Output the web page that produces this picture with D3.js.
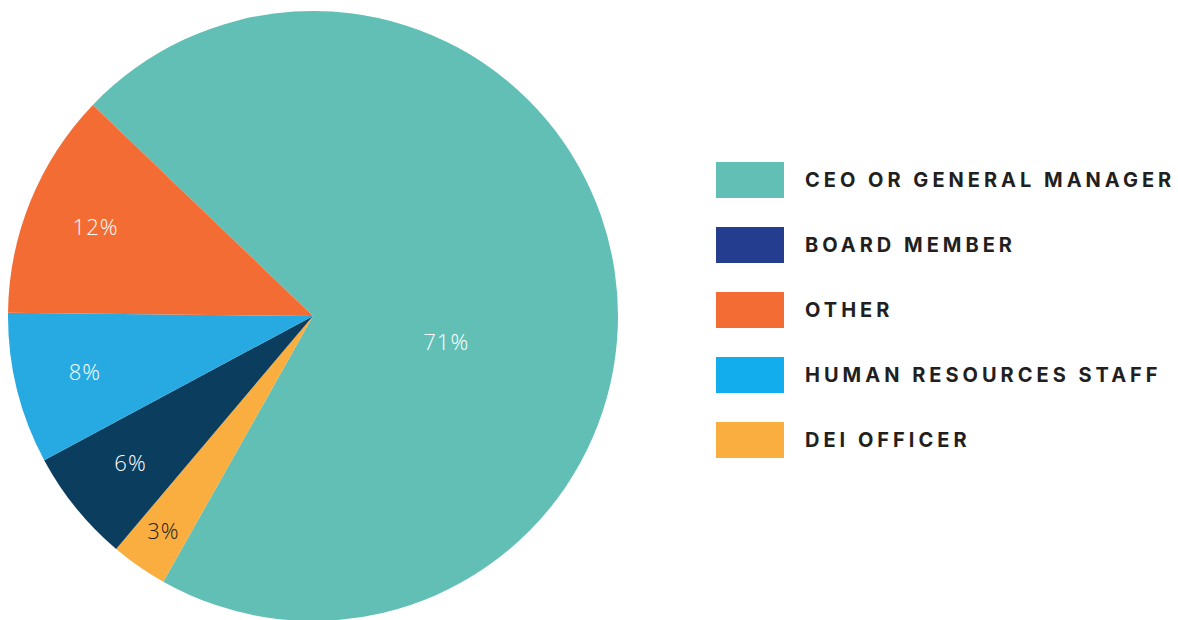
<!DOCTYPE html>
<html>
<head>
<meta charset="utf-8">
<script src="https://cdn.jsdelivr.net/npm/d3@7"></script>
<style>
  body { margin: 0; background: #fff; }
  .slice-label { font-family: "Open Sans", sans-serif; font-weight: 300; font-size: 22px; letter-spacing: 1px; }
  .legend-label { font-family: Inter, sans-serif; font-weight: 700; font-size: 20px; letter-spacing: 4px; fill: #231f20; }
</style>
</head>
<body>
<div id="root"></div>
<script>
// Data (pie order, clockwise)
const categories = ['CEO or General Manager', 'DEI Officer', 'Board Member', 'Human Resources Staff', 'Other'];
const values = [71, 3, 6, 8, 12];
const sliceColors = ['#62bfb6', '#fbae40', '#0a3d5e', '#27a9e1', '#f26c33'];

// Legend (its own order and colours)
const legendCategories = ['CEO OR GENERAL MANAGER', 'BOARD MEMBER', 'OTHER', 'HUMAN RESOURCES STAFF', 'DEI OFFICER'];
const legendColors = ['#62bfb6', '#253d8e', '#f26c33', '#12adec', '#fbae40'];

// Variables
const width = 1178;
const height = 620;
const cx = 313;
const cy = 316;
const radius = 305;
const startDeg = -46.2;

const svg = d3.select('#root')
  .append('svg')
  .attr('width', width)
  .attr('height', height);

const pie = d3.pie()
  .sort(null)
  .value(d => d)
  .startAngle(startDeg * Math.PI / 180)
  .endAngle(startDeg * Math.PI / 180 + 2 * Math.PI);

const arc = d3.arc().innerRadius(0).outerRadius(radius);
const arcs = pie(values);

const g = svg.append('g').attr('transform', `translate(${cx},${cy})`);

g.selectAll('path')
  .data(arcs)
  .enter()
    .append('path')
    .attr('d', arc)
    .attr('fill', (d, i) => sliceColors[i]);

// Labels: small slices sit near the rim, the big one nearer the centre
function labelPos(d) {
  const share = d.value / d3.sum(values);
  let r = radius * (share < 0.05 ? 0.86 : 0.77);
  let a = (d.startAngle + d.endAngle) / 2;
  if (share > 0.5) {
    r = radius * 0.445;
    a = 101 * Math.PI / 180;
  }
  return [Math.sin(a) * r, -Math.cos(a) * r];
}

g.selectAll('.slice-label')
  .data(arcs)
  .enter()
    .append('text')
    .attr('class', 'slice-label')
    .attr('transform', d => `translate(${labelPos(d)})`)
    .attr('text-anchor', 'middle')
    .attr('dy', '0.35em')
    .attr('fill', (d, i) => i === 1 ? '#231f20' : '#fff')
    .text(d => d.value + '%');

// Legend
const legendY = d3.scalePoint()
  .domain(legendCategories)
  .range([162, 422]);

const legend = svg.append('g')
  .selectAll('g')
  .data(legendCategories)
  .enter()
    .append('g');

legend.append('rect')
  .attr('x', 716)
  .attr('y', d => legendY(d))
  .attr('width', 68)
  .attr('height', 36)
  .attr('fill', (d, i) => legendColors[i]);

legend.append('text')
  .attr('class', 'legend-label')
  .attr('x', 805)
  .attr('y', d => legendY(d) + 18)
  .attr('dy', '0.35em')
  .text(d => d);
</script>
</body>
</html>
